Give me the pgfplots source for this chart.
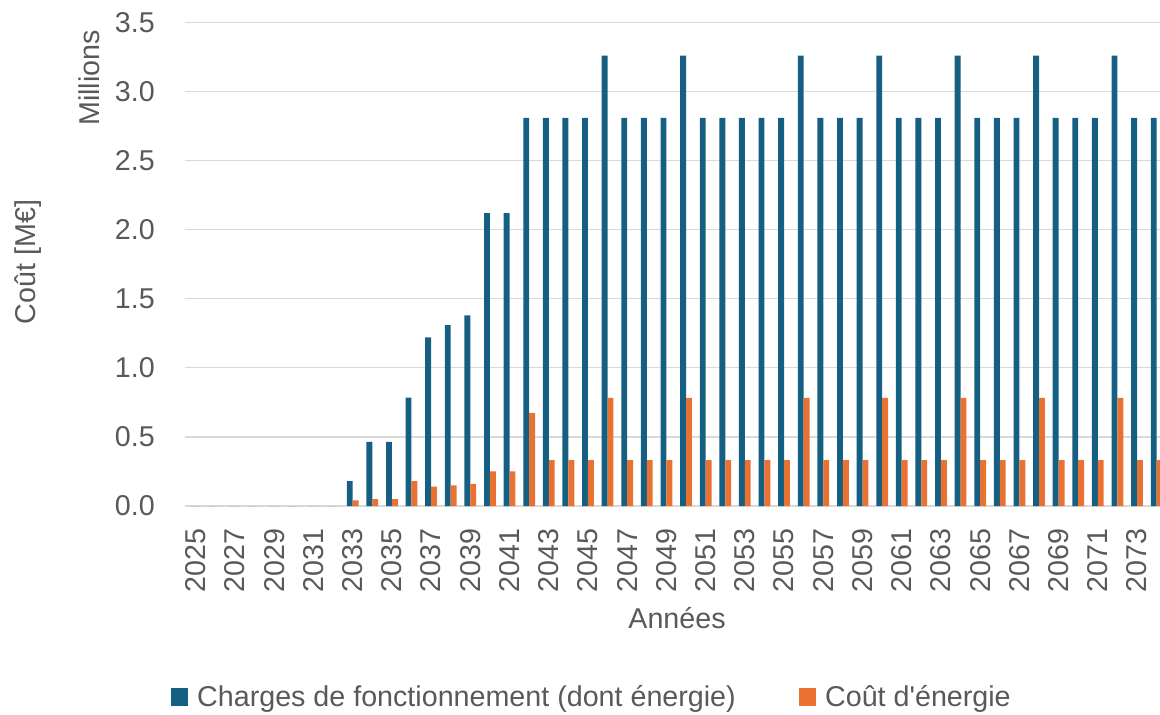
\documentclass[border=0pt]{standalone}
\usepackage{pgfplots}
\pgfplotsset{compat=1.18}
\usepackage{pgfplotstable}
\usepackage{fontspec}
\setmainfont{Liberation Sans}[Ligatures=TeXOff]
\definecolor{cblue}{HTML}{156082}
\definecolor{corange}{HTML}{E97132}
\definecolor{ctext}{HTML}{595959}
\definecolor{cgrid}{HTML}{D9D9D9}
\newcommand\fs{\fontsize{21.5}{26}\selectfont}
\pgfplotstableread{
year charges energie
2025 0 0
2026 0 0
2027 0 0
2028 0 0
2029 0 0
2030 0 0
2031 0 0
2032 0 0
2033 0.18 0.04
2034 0.465 0.05
2035 0.465 0.05
2036 0.785 0.18
2037 1.22 0.14
2038 1.31 0.15
2039 1.38 0.16
2040 2.12 0.25
2041 2.12 0.25
2042 2.81 0.675
2043 2.81 0.333
2044 2.81 0.333
2045 2.81 0.333
2046 3.26 0.783
2047 2.81 0.333
2048 2.81 0.333
2049 2.81 0.333
2050 3.26 0.783
2051 2.81 0.333
2052 2.81 0.333
2053 2.81 0.333
2054 2.81 0.333
2055 2.81 0.333
2056 3.26 0.783
2057 2.81 0.333
2058 2.81 0.333
2059 2.81 0.333
2060 3.26 0.783
2061 2.81 0.333
2062 2.81 0.333
2063 2.81 0.333
2064 3.26 0.783
2065 2.81 0.333
2066 2.81 0.333
2067 2.81 0.333
2068 3.26 0.783
2069 2.81 0.333
2070 2.81 0.333
2071 2.81 0.333
2072 3.26 0.783
2073 2.81 0.333
2074 2.81 0.333
}\datatable
\begin{document}
\begin{tikzpicture}
\useasboundingbox (-138.75pt,-156pt) rectangle (731.25pt,379.5pt);
\begin{axis}[
  at={(0pt,0pt)}, anchor=south west, scale only axis,
  width=731.25pt, height=362.6pt,
  xmin=2024.45, xmax=2074.17, ymin=0, ymax=3.5,
  ybar=0pt, bar width=0.3,
  axis x line*=bottom, axis y line*=left,
  x axis line style={cgrid, line width=1.2pt, -},
  y axis line style={draw=none},
  ymajorgrids, grid style={cgrid, line width=0.9pt},
  major tick length=0pt,
  xtick={2025,2027,...,2073},
  ytick={0,0.5,...,3.5},
  /pgf/number format/1000 sep={},
  /pgf/number format/assume math mode=true,
  yticklabel={\pgfmathprintnumber[fixed, fixed zerofill, precision=1]{\tick}},
  tick label style={font=\fs, text=ctext},
  yticklabel style={inner sep=0pt, anchor=east, xshift=-22.5pt},
  xticklabel style={inner sep=0pt, yshift=-16.5pt, rotate=90, anchor=east},
  legend style={at={(0.4174,-0.395)}, anchor=center, draw=none, fill=none,
    legend columns=2, font=\fs, text=ctext,
    /tikz/every even column/.append style={column sep=45pt}},
  legend image code/.code={\fill[#1] (0pt,-6.4pt) rectangle (12.75pt,6.4pt); \path (18pt,0pt);},
]
\addplot[fill=cblue, draw=none] table[x=year, y=charges] {\datatable};
\addlegendentry{Charges de fonctionnement (dont énergie)}
\addplot[fill=corange, draw=none] table[x=year, y=energie] {\datatable};
\addlegendentry{Coût d'énergie}
\end{axis}
\node[rotate=90, font=\fs, text=ctext] at (-117.75pt,183pt) {Coût [M€]};
\node[rotate=90, font=\fs, text=ctext] at (-72pt,321pt) {Millions};
\node[font=\fs, text=ctext] at (369pt,-84pt) {Années};
\end{tikzpicture}
\end{document}
